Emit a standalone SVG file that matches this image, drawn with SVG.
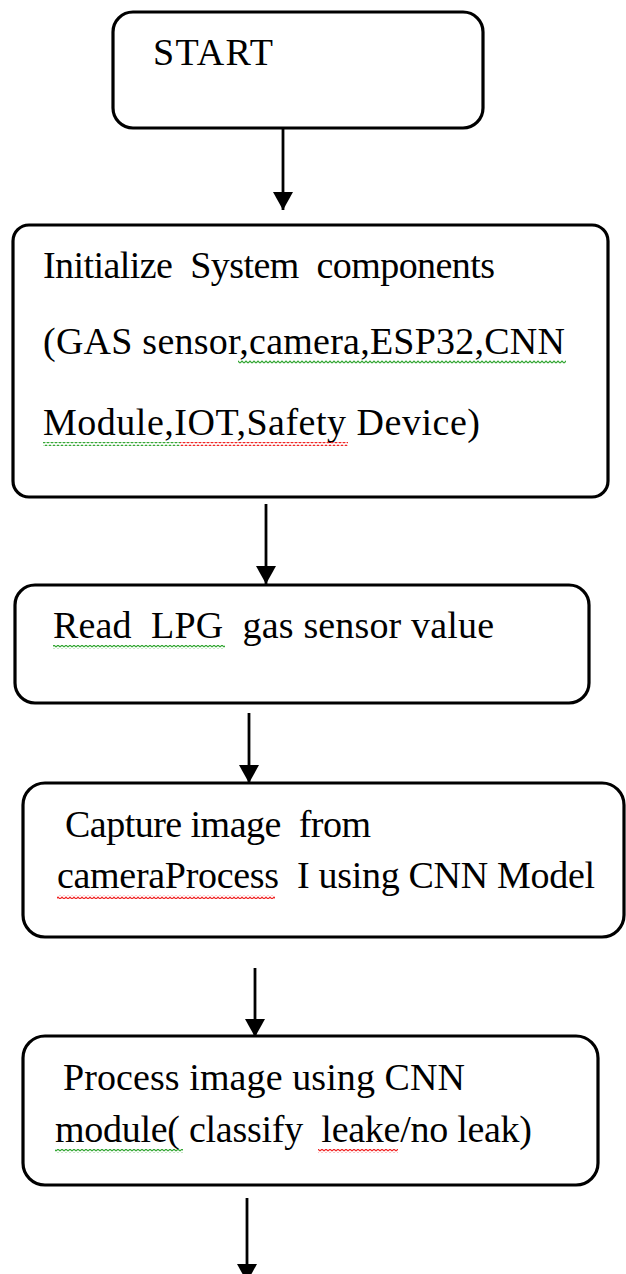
<svg xmlns="http://www.w3.org/2000/svg" width="626" height="1274" viewBox="0 0 626 1274">
<style>
.box{fill:#fff;stroke:#000;stroke-width:3.2}
.t{font-family:"Liberation Serif","Times New Roman",serif;font-size:38px;fill:#000;white-space:pre}
.conn{stroke:#000;stroke-width:2.8;fill:none}
</style>
<defs>
<marker id="ah" markerUnits="userSpaceOnUse" markerWidth="20" markerHeight="20" refX="18" refY="10" orient="auto">
<path d="M0,0 L18,10 L0,20 z" fill="#000"/>
</marker>
<pattern id="sqG" patternUnits="userSpaceOnUse" width="4" height="4">
<path d="M0,3 L2,1 L4,3" fill="none" stroke="#2fa52f" stroke-width="1.2"/>
</pattern>
<pattern id="sqR" patternUnits="userSpaceOnUse" width="4" height="4">
<path d="M0,3 L2,1 L4,3" fill="none" stroke="#f02020" stroke-width="1.2"/>
</pattern>
</defs>
<rect width="626" height="1274" fill="#fff"/>

<g id="connectors">
<line class="conn" x1="283" y1="128" x2="283" y2="210" marker-end="url(#ah)"/>
<line class="conn" x1="266" y1="504" x2="266" y2="584" marker-end="url(#ah)"/>
<line class="conn" x1="249" y1="713" x2="249" y2="783" marker-end="url(#ah)"/>
<line class="conn" x1="255" y1="968" x2="255" y2="1037" marker-end="url(#ah)"/>
<line class="conn" x1="247" y1="1198" x2="247" y2="1282" marker-end="url(#ah)"/>
</g>

<g id="start">
<rect class="box" x="113" y="12" width="370" height="116" rx="20"/>
<text class="t" x="153" y="65" textLength="120">START</text>
</g>

<g id="init">
<rect class="box" x="13" y="225" width="595" height="272" rx="16"/>
<text class="t" x="43" y="278" textLength="452">Initialize  System  components</text>
<text class="t" x="43" y="354" textLength="522">(GAS sensor,camera,ESP32,CNN</text>
<text class="t" x="43" y="435" textLength="437">Module,IOT,Safety Device)</text>
<rect x="238" y="360" width="328" height="4" fill="url(#sqG)"/>
<rect x="43" y="442" width="137" height="4" fill="url(#sqG)"/>
<rect x="180" y="442" width="168" height="4" fill="url(#sqR)"/>
</g>

<g id="read">
<rect class="box" x="15" y="585" width="574" height="118" rx="20"/>
<text class="t" x="53" y="638" textLength="441">Read  LPG  gas sensor value</text>
<rect x="53" y="645" width="172" height="4" fill="url(#sqG)"/>
</g>

<g id="capture">
<rect class="box" x="23" y="783" width="601" height="154" rx="22"/>
<text class="t" x="65" y="837" textLength="306">Capture image  from</text>
<text class="t" x="57" y="888" textLength="538">cameraProcess  I using CNN Model</text>
<rect x="57" y="895" width="218" height="4" fill="url(#sqR)"/>
</g>

<g id="process">
<rect class="box" x="23" y="1036" width="575" height="149" rx="22"/>
<text class="t" x="63" y="1090" textLength="402">Process image using CNN</text>
<text class="t" x="55" y="1142" textLength="477">module( classify  leake/no leak)</text>
<rect x="55" y="1149" width="128" height="4" fill="url(#sqG)"/>
<rect x="318" y="1149" width="80" height="4" fill="url(#sqR)"/>
</g>
</svg>
